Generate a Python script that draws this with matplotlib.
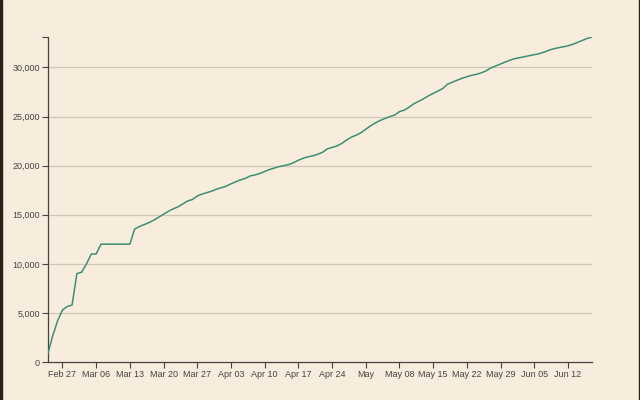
import matplotlib
matplotlib.use("Agg")
import matplotlib.pyplot as plt
from matplotlib.patches import Rectangle
import pandas as pd

start_date = "2020-02-24"
values = [
    900, 2700, 4200, 5300, 5650, 5800, 9000, 9150, 10000, 11000,
    11000, 12000, 12000, 12000, 12000, 12000, 12000, 12000, 13550, 13800,
    14000, 14200, 14450, 14750, 15050, 15350, 15600, 15800, 16100, 16400,
    16550, 16900, 17100, 17250, 17400, 17600, 17750, 17900, 18150, 18350,
    18550, 18700, 18950, 19050, 19200, 19400, 19600, 19750, 19900, 20000,
    20100, 20300, 20550, 20750, 20900, 21000, 21150, 21350, 21700, 21850,
    22000, 22250, 22600, 22900, 23100, 23350, 23700, 24050, 24350, 24600,
    24800, 25000, 25150, 25500, 25650, 25950, 26300, 26550, 26800, 27100,
    27350, 27600, 27850, 28300, 28500, 28700, 28900, 29050, 29200, 29300,
    29450, 29650, 29950, 30150, 30350, 30550, 30750, 30900, 31000, 31100,
    31200, 31300, 31400, 31550, 31750, 31900, 32000, 32100, 32200, 32350,
    32550, 32750, 32950, 33100,
]
dates = pd.date_range(start_date, periods=len(values), freq="D")

x_tick_dates = pd.date_range("2020-02-27", "2020-06-12", freq="7D")
x_tick_labels = ["Feb 27", "Mar 06", "Mar 13", "Mar 20", "Mar 27", "Apr 03",
                 "Apr 10", "Apr 17", "Apr 24", "May", "May 08", "May 15",
                 "May 22", "May 29", "Jun 05", "Jun 12"]
y_ticks = [0, 5000, 10000, 15000, 20000, 25000, 30000]
y_tick_labels = ["0", "5,000", "10,000", "15,000", "20,000", "25,000", "30,000"]

bg = "#f8ecdc"
plt.rcParams["font.family"] = ["Liberation Sans", "DejaVu Sans"]

fig = plt.figure(figsize=(6.4, 4.0), dpi=100, facecolor=bg)
ax = fig.add_axes([48/640, 38/400, 544/640, 325/400])
ax.set_facecolor(bg)

ymax = max(values)
ax.set_xlim(dates[0], dates[-1])
ax.set_ylim(0, ymax)

for yv in y_ticks[1:]:
    ax.axhline(yv, color="#d0c6b8", lw=0.9, zorder=1)

ax.plot(dates, values, color="#3b8f76", lw=1.1, zorder=3, solid_joinstyle="round")

ax.set_yticks(y_ticks + [ymax])
ax.set_yticklabels(y_tick_labels + [""])
ax.set_xticks(x_tick_dates)
ax.set_xticklabels(x_tick_labels)

for s in ["top", "right"]:
    ax.spines[s].set_visible(False)
for s in ["left", "bottom"]:
    ax.spines[s].set_color("#444444")
    ax.spines[s].set_linewidth(0.9)

ax.tick_params(axis="both", length=4, width=0.8, color="#444444",
               labelsize=6.5, labelcolor="#444444", pad=2)

fig.add_artist(Rectangle((0, 0), 1.5/640, 1, transform=fig.transFigure,
                         color="#2a2019", zorder=10))
fig.add_artist(Rectangle((639/640, 0), 1/640, 1, transform=fig.transFigure,
                         color="#2a2019", zorder=10))

fig.savefig("out.png", dpi=100, facecolor=bg)
